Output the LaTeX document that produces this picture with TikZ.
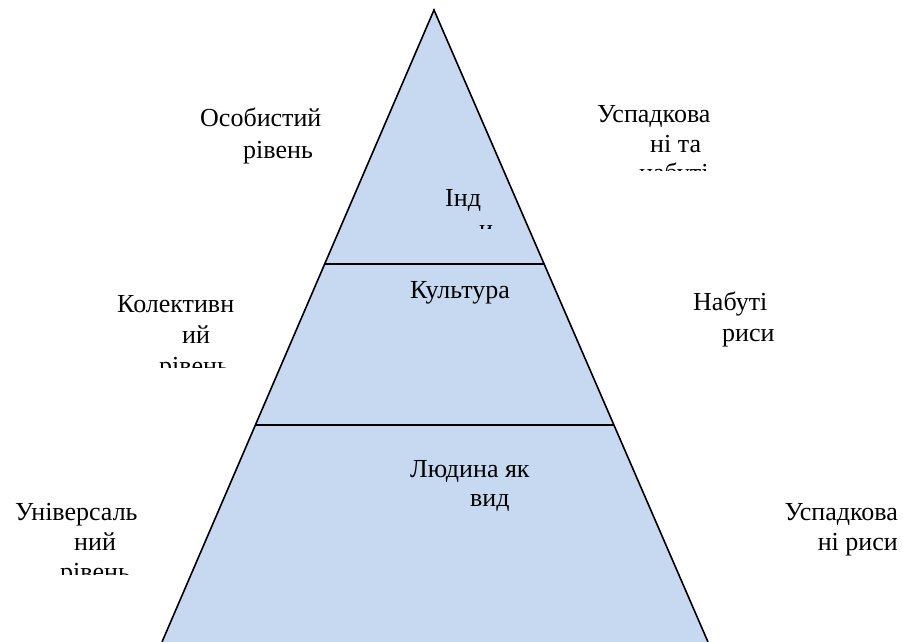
\documentclass[tikz,border=0pt]{standalone}
\usepackage{fontspec}
\setmainfont{Liberation Serif}
\newfontfamily\pyrfont{Liberation Serif}
\usetikzlibrary{calc}
\definecolor{pyrblue}{HTML}{C6D9F0}

\begin{document}
\begin{tikzpicture}[x=1pt,y=-1pt,
	lbl/.style={anchor=base west,inner sep=0pt,font=\pyrfont\fontsize{26}{30}\selectfont},
	rlbl/.style={lbl,anchor=base east},
	edge/.style={line width=1.6pt}]
	\useasboundingbox (0,0) rectangle (903,642);
	\coordinate (top) at (434,10);
	\coordinate (bl) at (162,642);
	\coordinate (br) at (708,642);
	\coordinate (l1) at ($(top)!0.4019!(bl)$);
	\coordinate (r1) at ($(top)!0.4019!(br)$);
	\coordinate (l2) at ($(top)!0.6566!(bl)$);
	\coordinate (r2) at ($(top)!0.6566!(br)$);
	\fill[pyrblue] (top) -- (bl) -- (br) -- cycle;
	\draw[edge] (bl) -- (top) -- (br);
	\draw[edge] (l1) -- (r1);
	\draw[edge] (l2) -- (r2);
	% top level
	\node[lbl] (osob1) at (200,127) {Особистий};
	\node[lbl] (osob2) at (243,158) {рівень};
	\begin{scope}
		\clip (580,90) rectangle (730,170);
		\node[lbl] (usp1) at (597,122) {Успадкова};
		\node[lbl] (usp2) at (650,152) {ні та};
		\node[lbl] (usp3) at (639,181) {набуті};
	\end{scope}
	\begin{scope}
		\clip (440,175) rectangle (497,228);
		\node[lbl] (ind1) at (445,206) {Інд};
		\node[lbl] (ind2) at (479,237) {и};
	\end{scope}
	% middle level
	\begin{scope}
		\clip (100,280) rectangle (250,367);
		\node[lbl] (kol1) at (117,312) {Колективн};
		\node[lbl] (kol2) at (182,343) {ий};
		\node[lbl] (kol3) at (159,374) {рівень};
	\end{scope}
	\node[lbl] (kult) at (410,298) {Культура};
	\node[lbl] (nab1) at (693,310) {Набуті};
	\node[lbl] (nab2) at (722,341) {риси};
	% bottom level
	\node[lbl] (lud1) at (410,477) {Людина як};
	\node[lbl] (lud2) at (470,506) {вид};
	\begin{scope}
		\clip (0,490) rectangle (150,574);
		\node[lbl] (univ1) at (15,520) {Універсаль};
		\node[lbl] (univ2) at (74,550) {ний};
		\node[lbl] (univ3) at (60,580) {рівень};
	\end{scope}
	\node[rlbl] (uspr1) at (898,520) {Успадкова};
	\node[rlbl] (uspr2) at (898,550) {ні риси};
\end{tikzpicture}
\end{document}
